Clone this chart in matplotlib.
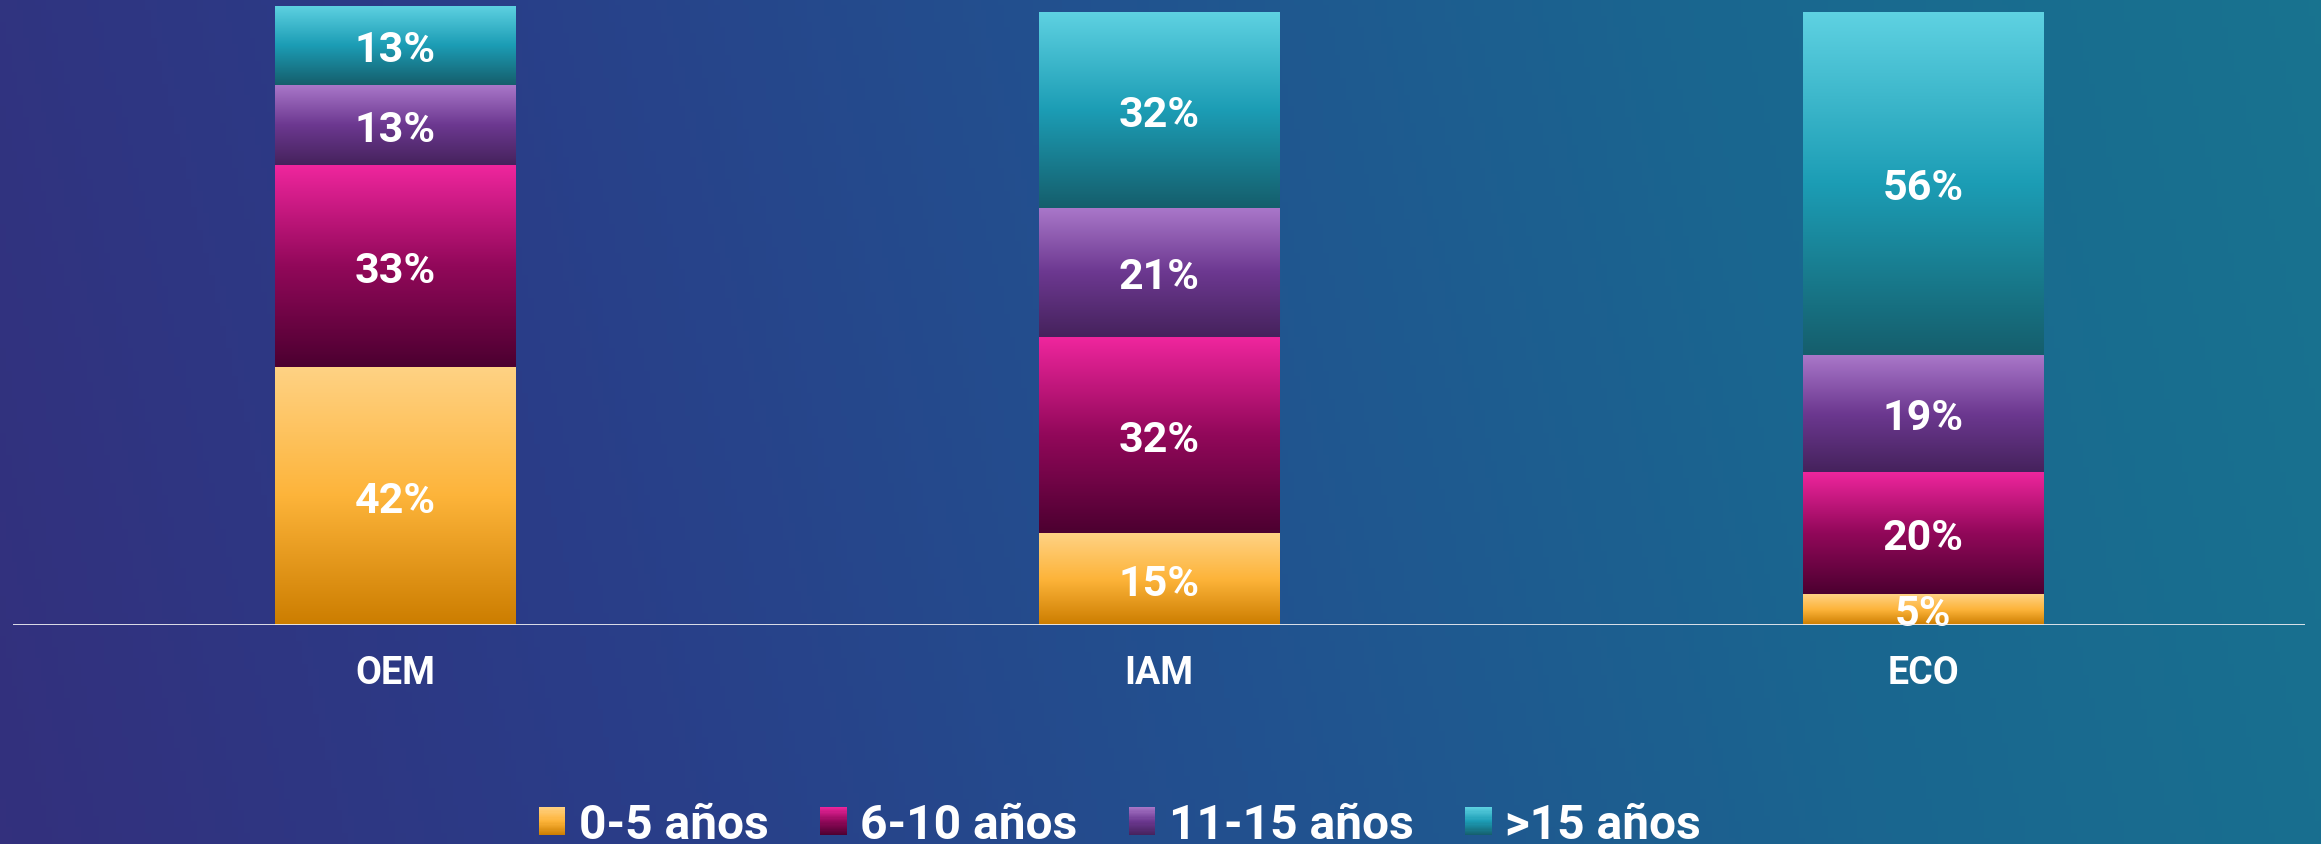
import numpy as np
import matplotlib
matplotlib.use("Agg")
import matplotlib.pyplot as plt
from matplotlib.colors import LinearSegmentedColormap
from matplotlib.patches import Rectangle
from matplotlib.legend_handler import HandlerBase

# data
categories = ["OEM", "IAM", "ECO"]
series_names = ["0-5 años", "6-10 años", "11-15 años", ">15 años"]
age_0_5 = [42, 15, 5]
age_6_10 = [33, 32, 20]
age_11_15 = [13, 21, 19]
age_15_plus = [13, 32, 56]

# bottom -> middle -> top colours of each gradient
gradients = [
    ["#cc7d00", "#fdb43a", "#ffd284"],
    ["#4c0030", "#92085a", "#f0269e"],
    ["#45225c", "#6c3890", "#a977c9"],
    ["#155e6c", "#1c9db5", "#5fd2e2"],
]
cmaps = [LinearSegmentedColormap.from_list("g%d" % i, g) for i, g in enumerate(gradients)]

plt.rcParams["font.family"] = ["Roboto", "DejaVu Sans"]


class GradientHandler(HandlerBase):
    def __init__(self, cmap, steps=24):
        super().__init__()
        self.cmap = cmap
        self.steps = steps

    def create_artists(self, legend, orig_handle, xdescent, ydescent,
                       width, height, fontsize, trans):
        out = []
        h = height / self.steps
        for i in range(self.steps):
            r = Rectangle((-xdescent, -ydescent + i * h), width, h * 1.05,
                          facecolor=self.cmap((i + 0.5) / self.steps),
                          edgecolor="none", transform=trans)
            out.append(r)
        return out


W, H = 2321, 845
fig = plt.figure(figsize=(W / 100, H / 100), dpi=100)

# background: purple-blue to teal
bg = fig.add_axes([0, 0, 1, 1], zorder=-10)
bg_cmap = LinearSegmentedColormap.from_list(
    "bg", ["#33307d", "#2a3d88", "#22518f", "#1a6690", "#18738f"])
gx = np.linspace(0, 1, 400)
gy = np.linspace(0, 1, 150)
GX, GY = np.meshgrid(gx, gy)
bg.imshow(GX * 0.92 + GY * 0.08, cmap=bg_cmap, aspect="auto",
          extent=[0, 1, 0, 1], origin="lower")
bg.set_axis_off()

ax = fig.add_axes([13 / W, (H - 626) / H, (2305 - 13) / W, 626 / H])
ax.set_facecolor("none")

x = np.arange(len(categories))
width = 0.315
data = [age_0_5, age_6_10, age_11_15, age_15_plus]
bottom = np.zeros(len(categories))
grad = np.linspace(0, 1, 256).reshape(-1, 1)
for vals, cmap in zip(data, cmaps):
    bars = ax.bar(x, vals, width, bottom=bottom, color="none", edgecolor="none")
    for bar, v in zip(bars, vals):
        bx, by = bar.get_x(), bar.get_y()
        bw, bh = bar.get_width(), bar.get_height()
        im = ax.imshow(grad, cmap=cmap, aspect="auto", origin="lower",
                       extent=[bx, bx + bw, by, by + bh], zorder=2)
        im.set_clip_path(bar)
        ax.annotate("%d%%" % v, (bx + bw / 2, by + bh / 2),
                    xytext=(0, -3), textcoords="offset points",
                    ha="center", va="center", color="white",
                    fontsize=31, fontweight="bold", zorder=3)
    bottom += np.array(vals)

ax.set_xlim(-0.5, 2.5)
ax.set_ylim(0, 102.1)
ax.axhline(0, color="#eeeef2", lw=2, zorder=4)
for s in ax.spines.values():
    s.set_visible(False)
ax.set_yticks([])
ax.set_xticks(x)
ax.set_xticklabels(categories, fontsize=27, fontweight="bold", color="white")
ax.tick_params(axis="x", length=0, pad=21)

handles = [Rectangle((0, 0), 1, 1) for _ in series_names]
handler_map = {h: GradientHandler(c) for h, c in zip(handles, cmaps)}
leg = fig.legend(handles, series_names, handler_map=handler_map,
                 loc="center", bbox_to_anchor=(1120 / W, 1 - 826 / H),
                 ncol=4, frameon=False, fontsize=34.5,
                 handlelength=0.55, handleheight=0.55, handletextpad=0.28,
                 columnspacing=1.08, borderpad=0)
for t in leg.get_texts():
    t.set_color("white")
    t.set_fontweight("bold")

fig.savefig("out.png", dpi=100)
